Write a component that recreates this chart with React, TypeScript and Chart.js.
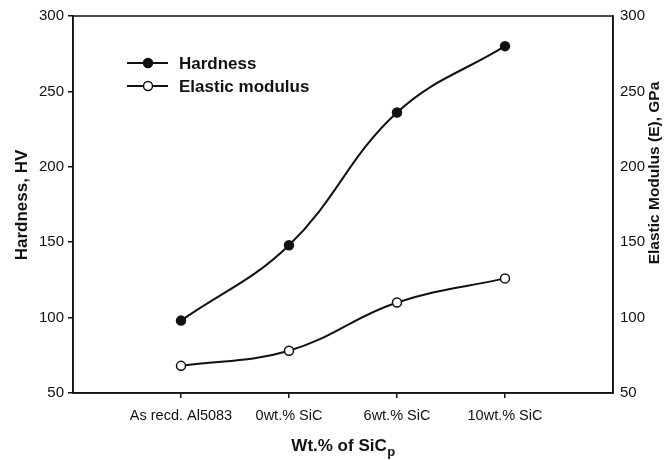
import React, { useEffect, useRef } from "react";
import { Chart, registerables } from "chart.js";

Chart.register(...registerables);

const categories = ["As recd. Al5083", "0wt.% SiC", "6wt.% SiC", "10wt.% SiC"];
const hardness = [98, 148, 236, 280];
const elasticModulus = [68, 78, 110, 126];
const yTicks = [50, 100, 150, 200, 250, 300];

const FONT = "'Liberation Sans', Arial, Helvetica, sans-serif";
const INK = "#111";

const framePlugin = {
  id: "frame",
  afterDatasetsDraw(chart: any) {
    const { ctx, chartArea } = chart;
    ctx.save();
    ctx.strokeStyle = INK;
    ctx.lineWidth = 1.5;
    ctx.strokeRect(chartArea.left, chartArea.top, chartArea.right - chartArea.left, chartArea.bottom - chartArea.top);
    ctx.restore();
  },
};

const legendPlugin = {
  id: "insideLegend",
  afterDraw(chart: any) {
    const { ctx } = chart;
    const rows = [63, 86];
    ctx.save();
    chart.data.datasets.forEach((ds: any, i: number) => {
      const y = rows[i];
      ctx.strokeStyle = INK;
      ctx.lineWidth = 2;
      ctx.beginPath();
      ctx.moveTo(127, y);
      ctx.lineTo(168, y);
      ctx.stroke();
      ctx.beginPath();
      ctx.arc(148, y, 4.5, 0, Math.PI * 2);
      ctx.fillStyle = ds.pointBackgroundColor;
      ctx.fill();
      ctx.lineWidth = 1.5;
      ctx.stroke();
      ctx.fillStyle = INK;
      ctx.font = `bold 17px ${FONT}`;
      ctx.textBaseline = "middle";
      ctx.textAlign = "left";
      ctx.fillText(ds.label, 179, y + 1);
    });
    ctx.restore();
  },
};

const titlesPlugin = {
  id: "axisTitles",
  afterDraw(chart: any) {
    const { ctx, chartArea } = chart;
    ctx.save();
    ctx.fillStyle = INK;
    ctx.textBaseline = "middle";
    ctx.textAlign = "center";
    ctx.save();
    ctx.translate(22, 205);
    ctx.rotate(-Math.PI / 2);
    ctx.font = `bold 17px ${FONT}`;
    ctx.fillText("Hardness, HV", 0, 0);
    ctx.restore();
    ctx.save();
    ctx.translate(655, 173);
    ctx.rotate(-Math.PI / 2);
    ctx.font = `bold 15.5px ${FONT}`;
    ctx.fillText("Elastic Modulus (E), GPa", 0, 0);
    ctx.restore();
    const main = "Wt.% of SiC";
    const sub = "p";
    ctx.font = `bold 17px ${FONT}`;
    const wMain = ctx.measureText(main).width;
    ctx.font = `bold 13px ${FONT}`;
    const wSub = ctx.measureText(sub).width;
    const cx = (chartArea.left + chartArea.right) / 2;
    const x0 = cx - (wMain + wSub) / 2;
    ctx.textAlign = "left";
    ctx.font = `bold 17px ${FONT}`;
    ctx.fillText(main, x0, 446);
    ctx.font = `bold 13px ${FONT}`;
    ctx.fillText(sub, x0 + wMain + 0.5, 452);
    ctx.restore();
  },
};

export default function App() {
  const ref = useRef<HTMLCanvasElement | null>(null);

  useEffect(() => {
    if (!ref.current) return;
    const chart = new Chart(ref.current, {
      type: "line",
      data: {
        datasets: [
          {
            label: "Hardness",
            data: hardness.map((v, i) => ({ x: i + 1, y: v })),
            borderColor: INK,
            borderWidth: 2,
            pointBackgroundColor: INK,
            pointBorderColor: INK,
            pointBorderWidth: 1.5,
            pointRadius: 4.5,
            tension: 0.4,
            yAxisID: "y",
          },
          {
            label: "Elastic modulus",
            data: elasticModulus.map((v, i) => ({ x: i + 1, y: v })),
            borderColor: INK,
            borderWidth: 2,
            pointBackgroundColor: "#fff",
            pointBorderColor: INK,
            pointBorderWidth: 1.5,
            pointRadius: 4.5,
            tension: 0.4,
            yAxisID: "y2",
          },
        ],
      },
      options: {
        responsive: false,
        animation: false,
        devicePixelRatio: 1,
        layout: { padding: { top: 16, left: 0, right: 0, bottom: 0 } },
        plugins: { legend: { display: false }, tooltip: { enabled: false } },
        scales: {
          x: {
            type: "linear",
            min: 0,
            max: categories.length + 1,
            afterBuildTicks: (scale: any) => {
              scale.ticks = categories.map((_, i) => ({ value: i + 1 }));
            },
            afterFit: (scale: any) => {
              scale.height = 67;
            },
            grid: { drawOnChartArea: false, drawTicks: true, tickLength: 5, color: INK, lineWidth: 1.5 },
            border: { display: true, color: INK, width: 1.5 },
            ticks: {
              padding: 9,
              color: INK,
              maxRotation: 0,
              autoSkip: false,
              font: { family: FONT, size: 14.5 },
              callback: (v: any) => categories[Number(v) - 1] ?? "",
            },
          },
          y: {
            position: "left",
            min: 50,
            max: 300,
            afterBuildTicks: (scale: any) => {
              scale.ticks = yTicks.map((v) => ({ value: v }));
            },
            afterFit: (scale: any) => {
              scale.width = 73;
            },
            grid: { drawOnChartArea: false, drawTicks: true, tickLength: 5, color: INK, lineWidth: 1.5 },
            border: { display: true, color: INK, width: 1.5 },
            ticks: { padding: 4, color: INK, font: { family: FONT, size: 15 } },
          },
          y2: {
            position: "right",
            min: 50,
            max: 300,
            afterBuildTicks: (scale: any) => {
              scale.ticks = yTicks.map((v) => ({ value: v }));
            },
            afterFit: (scale: any) => {
              scale.width = 56;
            },
            grid: { drawOnChartArea: false, drawTicks: false },
            border: { display: true, color: INK, width: 1.5 },
            ticks: { padding: 7, color: INK, font: { family: FONT, size: 15 } },
          },
        },
      },
      plugins: [framePlugin, legendPlugin, titlesPlugin],
    } as any);
    return () => chart.destroy();
  }, []);

  return (
    <div style={{ position: "fixed", left: 0, top: 0, width: 669, height: 460, background: "#fff" }}>
      <canvas ref={ref} width={669} height={460} />
    </div>
  );
}
